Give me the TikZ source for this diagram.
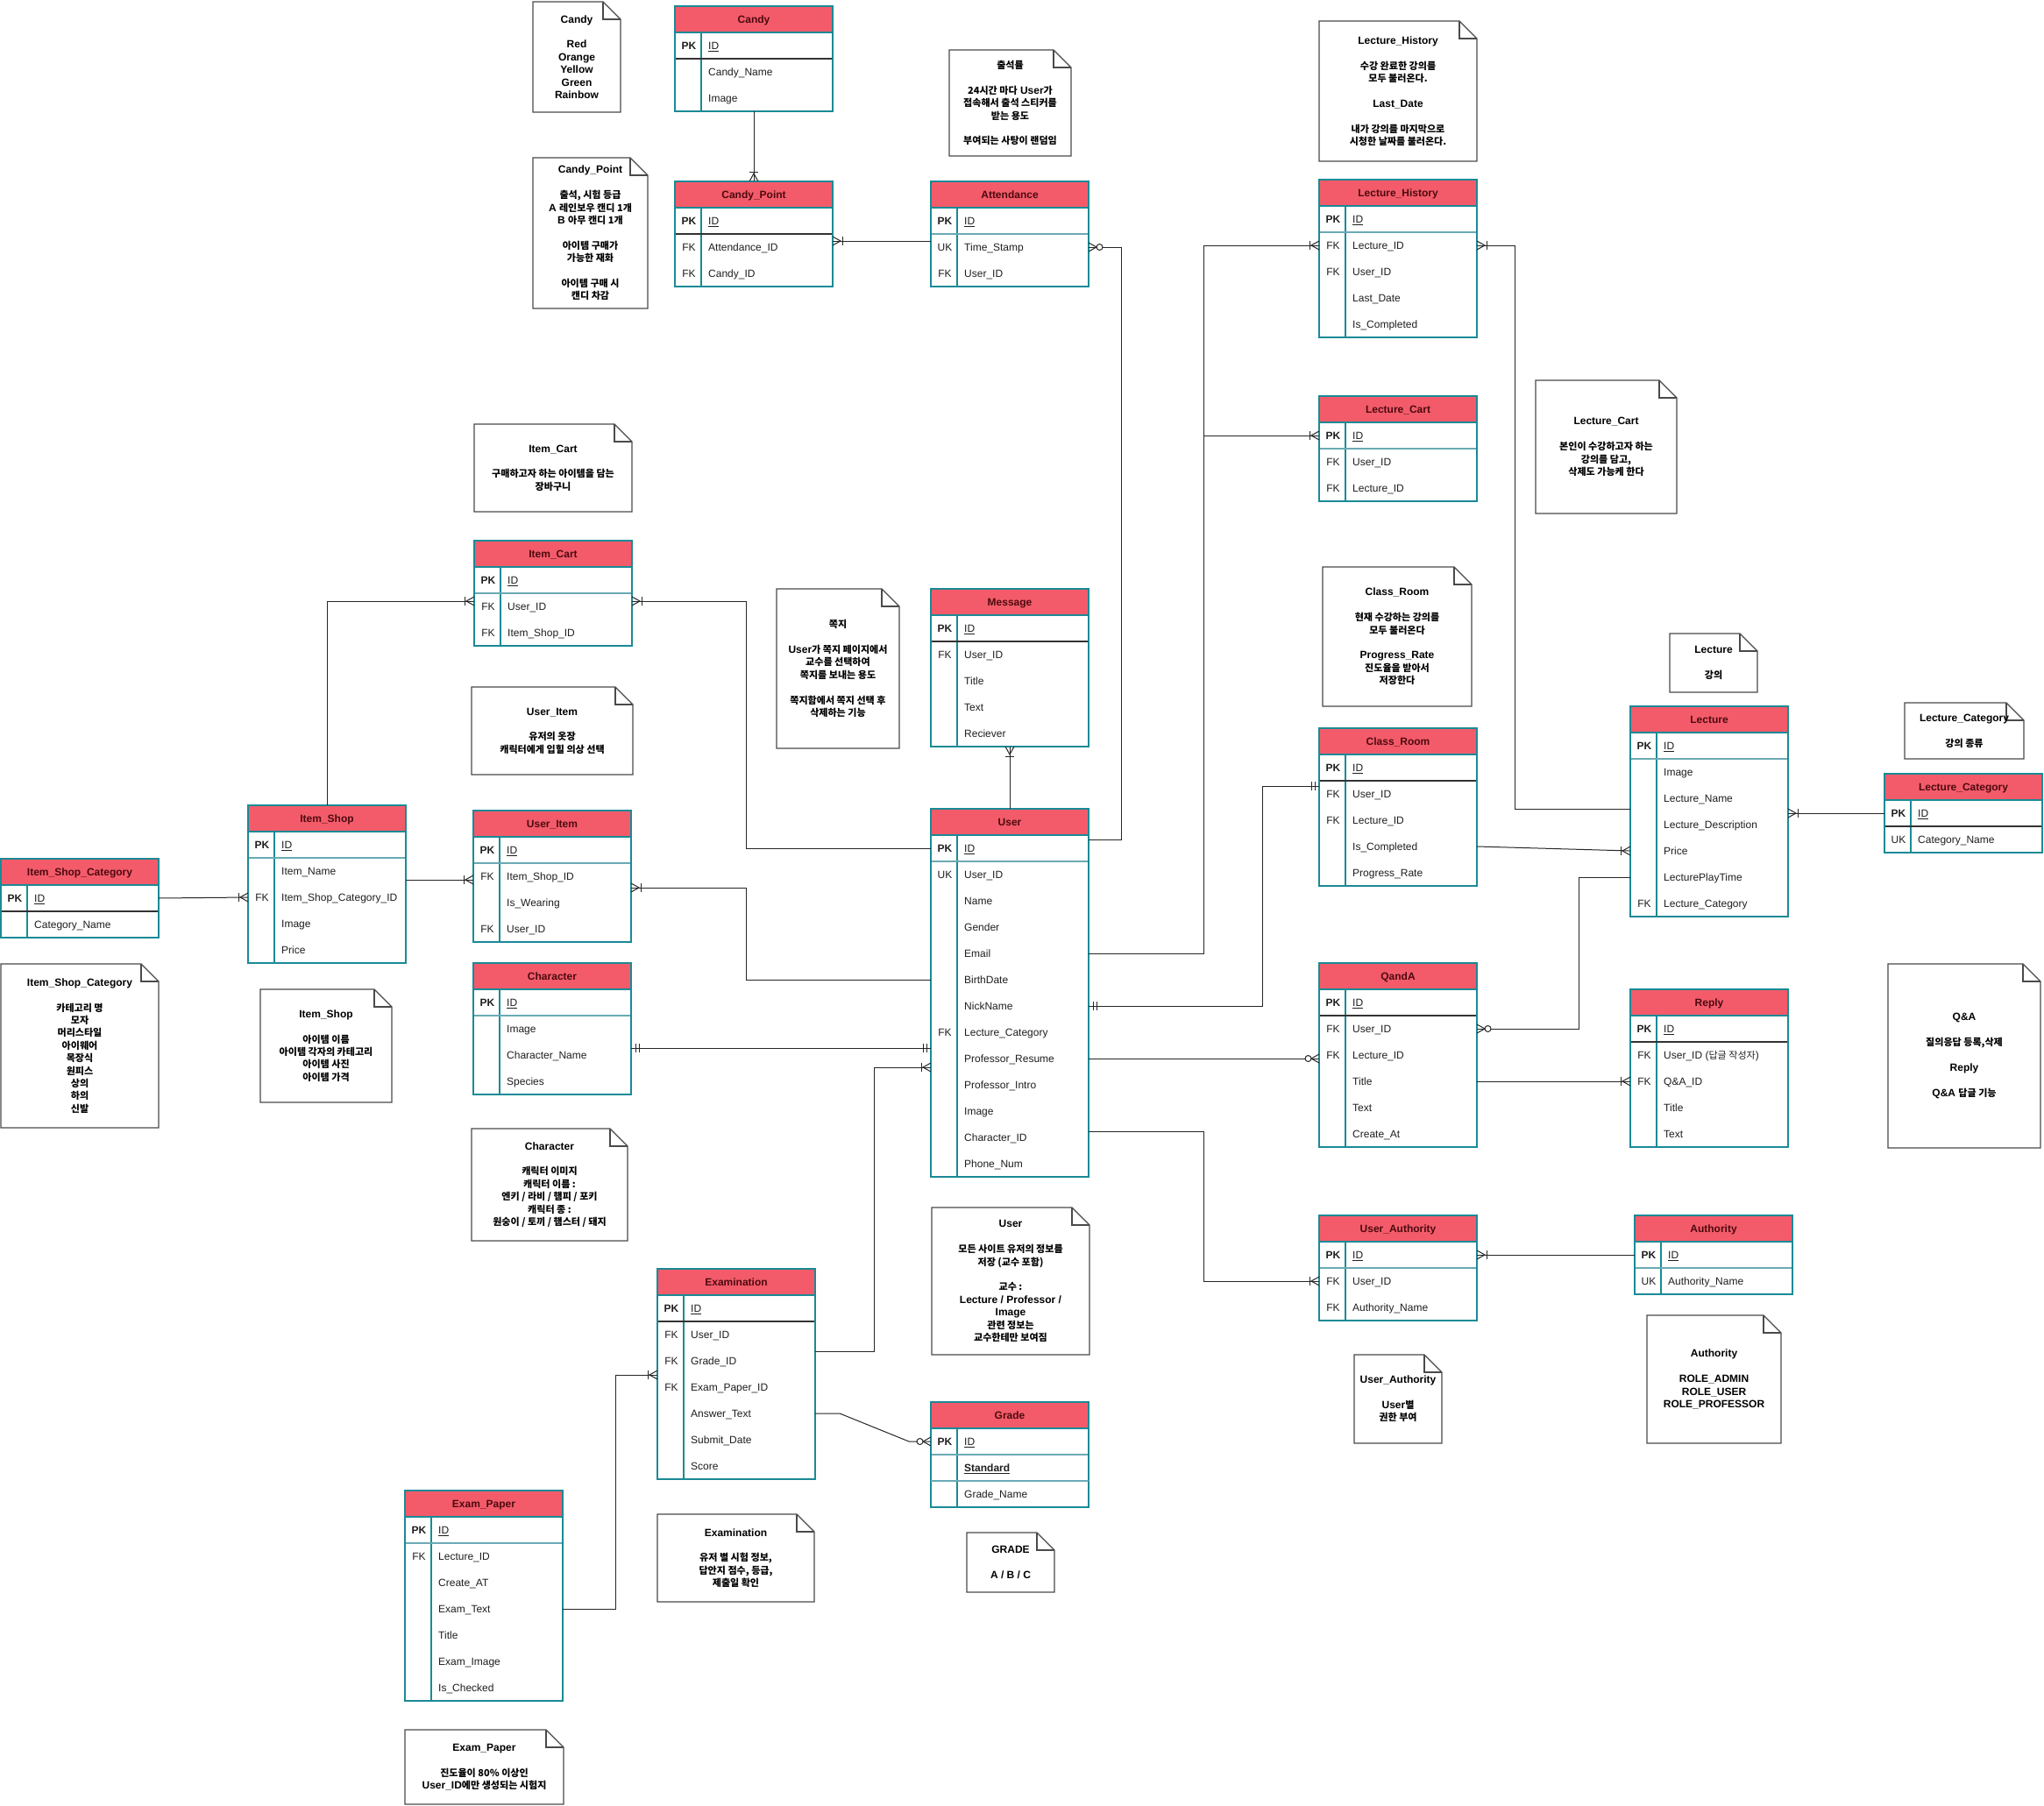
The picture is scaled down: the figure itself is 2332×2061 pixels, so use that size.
\documentclass[tikz,border=0pt]{standalone}
\usepackage{fontspec}
\setmainfont{Liberation Sans}
\newfontfamily\krfont{Noto Sans CJK KR}[Scale=0.92]
\newcommand\kr[1]{{\krfont #1}}
\newcommand\bl{\\[14.4pt]}
\newcommand\pkey{\textbf{PK}}
\newcommand\idu{\underline{ID}}
\usetikzlibrary{calc}
\definecolor{hdrfill}{HTML}{F35B6A}
\definecolor{tealb}{HTML}{1A8A96}
\definecolor{tealsep}{HTML}{6AAAB4}
\definecolor{hdrtext}{HTML}{4D0A0F}
\definecolor{rowtext}{HTML}{1F1F1F}
\definecolor{notegray}{HTML}{4A4A4A}
\tikzset{
  tblhead/.style={fill=hdrfill, draw=none, minimum width=180pt, minimum height=30pt, inner sep=0pt, outer sep=0pt, text height=8.6pt, text depth=0pt, font=\fontsize{12}{14}\selectfont\bfseries, text=hdrtext},
  tblrow/.style={minimum width=180pt, minimum height=30pt, inner sep=0pt, outer sep=0pt},
  tblkey/.style={inner sep=0pt, text height=8.6pt, text depth=0pt, font=\fontsize{12}{14}\selectfont, text=rowtext},
  tblfield/.style={anchor=west, inner sep=0pt, text height=8.6pt, text depth=0pt, font=\fontsize{12}{14}\selectfont, text=rowtext},
  tblframe/.style={draw=tealb, line width=1.2pt, minimum width=180pt, inner sep=0pt, outer sep=0pt},
  tblline/.style={draw=tealb, line width=1.2pt},
  sepdark/.style={draw=black!80, line width=1.6pt},
  septeal/.style={draw=tealsep, line width=1.6pt},
  notestroke/.style={draw=notegray, line width=1.3pt, line join=miter},
  notetext/.style={align=center, inner sep=0pt, font=\fontsize{12}{14.4}\selectfont\bfseries, text=black},
  conn/.style={draw=black!85, line width=1pt},
  mk/.style={draw=black!85, line width=1pt},
  pics/onemany/.style={code={
    \draw[mk] (11,-5) -- (11,5);
    \draw[mk] (0,-5) -- (9,0) -- (0,5);
  }},
  pics/zeromany/.style={code={
    \draw[mk] (0,-5) -- (9,0) -- (0,5);
    \draw[mk, fill=white] (12.5,0) circle[radius=3.5pt];
  }},
  pics/mandone/.style={code={
    \draw[mk] (5,-5) -- (5,5);
    \draw[mk] (9,-5) -- (9,5);
  }},
}
% #1 separator style, #2 name, #3 x, #4 y, #5 title, #6 rows key/field
\newcommand\ertable[6][septeal]{%
  \node[tblhead] (#2-h) at (#3+90,#4+15) {#5};
  \foreach \k/\f [count=\i] in {#6} {
    \node[tblrow] (#2-\i) at (#3+90,#4+15+30*\i) {};
    \node[tblkey] at (#3+16,#4+15+30*\i) {\k};
    \node[tblfield] at (#3+38,#4+15+30*\i) {\f};
    \xdef\nrows{\i}
  }
  \draw[tblline] (#3,#4+30) -- (#3+180,#4+30);
  \draw[tblline] (#3+30,#4+30) -- (#3+30,{#4+30+30*\nrows});
  \draw[#1] (#3,#4+60) -- (#3+180,#4+60);
  \node[tblframe, minimum height={30+30*\nrows}] (#2) at (#3+90,{#4+15+15*\nrows}) {};
}
% #1 name, #2 x1, #3 y1, #4 x2, #5 y2, #6 text
\newcommand\ernote[6]{%
  \draw[notestroke, fill=white] (#2,#3) -- (#4-20,#3) -- (#4,#3+20) -- (#4,#5) -- (#2,#5) -- cycle;
  \draw[notestroke] (#4-20,#3) -- (#4-20,#3+20) -- (#4,#3+20);
  \node[notetext] (#1) at ({(#2+#4)/2},{(#3+#5)/2}) {#6};
}
\begin{document}
\begin{tikzpicture}[x=1pt,y=-1pt]
\fill[white] (0,0) rectangle (2332,2061);
\useasboundingbox (0,0) rectangle (2332,2061);

% ---------- tables ----------
\ertable[sepdark]{candy}{770}{7}{Candy}{\pkey/\idu, /Candy\_Name, /Image}
\ertable[sepdark]{cpoint}{770}{207}{Candy\_Point}{\pkey/\idu, FK/Attendance\_ID, FK/Candy\_ID}
\ertable[septeal]{att}{1062}{207}{Attendance}{\pkey/\idu, UK/Time\_Stamp, FK/User\_ID}
\ertable[septeal]{lhist}{1505}{205}{Lecture\_History}{\pkey/\idu, FK/Lecture\_ID, FK/User\_ID, /Last\_Date, /Is\_Completed}
\ertable[septeal]{lcart}{1505}{452}{Lecture\_Cart}{\pkey/\idu, FK/User\_ID, FK/Lecture\_ID}
\ertable[septeal]{icart}{541}{617}{Item\_Cart}{\pkey/\idu, FK/User\_ID, FK/Item\_Shop\_ID}
\ertable[sepdark]{msg}{1062}{672}{Message}{\pkey/\idu, FK/User\_ID, /Title, /Text, /Reciever}
\ertable[sepdark]{croom}{1505}{831}{Class\_Room}{\pkey/\idu, FK/User\_ID, FK/Lecture\_ID, /Is\_Completed, /Progress\_Rate}
\ertable[septeal]{lec}{1860}{806}{Lecture}{\pkey/\idu, /Image, /Lecture\_Name, /Lecture\_Description, /Price, /LecturePlayTime, FK/Lecture\_Category}
\ertable[sepdark]{lcat}{2150}{883}{Lecture\_Category}{\pkey/\idu, UK/Category\_Name}
\ertable[septeal]{ishop}{283}{919}{Item\_Shop}{\pkey/\idu, /Item\_Name, FK/Item\_Shop\_Category\_ID, /Image, /Price}
\ertable[septeal]{uitem}{540}{925}{User\_Item}{\pkey/\idu, FK/Item\_Shop\_ID, /Is\_Wearing, FK/User\_ID}
\ertable[septeal]{user}{1062}{923}{User}{\pkey/\idu, UK/User\_ID, /Name, /Gender, /Email, /BirthDate, /NickName, FK/Lecture\_Category, /Professor\_Resume, /Professor\_Intro, /Image, /Character\_ID, /Phone\_Num}
\ertable[sepdark]{iscat}{1}{980}{Item\_Shop\_Category}{\pkey/\idu, /Category\_Name}
\ertable[septeal]{char}{540}{1099}{Character}{\pkey/\idu, /Image, /Character\_Name, /Species}
\ertable[sepdark]{qanda}{1505}{1099}{QandA}{\pkey/\idu, FK/User\_ID, FK/Lecture\_ID, /Title, /Text, /Create\_At}
\ertable[sepdark]{reply}{1860}{1129}{Reply}{\pkey/\idu, FK/User\_ID (\kr{답글 작성자}), FK/Q\&A\_ID, /Title, /Text}
\ertable[septeal]{uauth}{1505}{1387}{User\_Authority}{\pkey/\idu, FK/User\_ID, FK/Authority\_Name}
\ertable[septeal]{auth}{1865}{1387}{Authority}{\pkey/\idu, UK/Authority\_Name}
\ertable[sepdark]{exam}{750}{1448}{Examination}{\pkey/\idu, FK/User\_ID, FK/Grade\_ID, FK/Exam\_Paper\_ID, /Answer\_Text, /Submit\_Date, /Score}
\ertable[septeal]{grade}{1062}{1600}{Grade}{\pkey/\idu, /\textbf{\underline{Standard}}, /Grade\_Name}
\draw[septeal] (1062,1690) -- (1242,1690);
\ertable[septeal]{epaper}{462}{1701}{Exam\_Paper}{\pkey/\idu, FK/Lecture\_ID, /Create\_AT, /Exam\_Text, /Title, /Exam\_Image, /Is\_Checked}

% ---------- notes ----------
\ernote{nCandy}{608}{2}{708}{128}{Candy\bl Red\\Orange\\Yellow\\Green\\Rainbow}
\ernote{nCandyPoint}{608}{180}{739}{352}{Candy\_Point\bl\kr{출석, 시험 등급}\\A \kr{레인보우 캔디 1개}\\B \kr{아무 캔디 1개}\bl\kr{아이템 구매가}\\\kr{가능한 재화}\bl\kr{아이템 구매 시}\\\kr{캔디 차감}}
\ernote{nAttend}{1083}{57}{1222}{178}{\kr{출석률}\bl\kr{24시간 마다} User\kr{가}\\\kr{접속해서 출석 스티커를}\\\kr{받는 용도}\bl\kr{부여되는 사탕이 랜덤임}}
\ernote{nLHist}{1505}{24}{1685}{184}{Lecture\_History\bl\kr{수강 완료한 강의를}\\\kr{모두 불러온다.}\bl Last\_Date\bl\kr{내가 강의를 마지막으로}\\\kr{시청한 날짜를 불러온다.}}
\ernote{nLCart}{1752}{434}{1913}{586}{Lecture\_Cart\bl\kr{본인이 수강하고자 하는}\\\kr{강의를 담고,}\\\kr{삭제도 가능케 한다}}
\ernote{nICart}{541}{484}{721}{584}{Item\_Cart\bl\kr{구매하고자 하는 아이템을 담는}\\\kr{장바구니}}
\ernote{nMsg}{886}{672}{1026}{854}{\kr{쪽지}\bl User\kr{가 쪽지 페이지에서}\\\kr{교수를 선택하여}\\\kr{쪽지를 보내는 용도}\bl\kr{쪽지함에서 쪽지 선택 후}\\\kr{삭제하는 기능}}
\ernote{nUItem}{538}{784}{722}{884}{User\_Item\bl\kr{유저의 옷장}\\\kr{캐릭터에게 입힐 의상 선택}}
\ernote{nCRoom}{1509}{647}{1679}{806}{Class\_Room\bl\kr{현재 수강하는 강의를}\\\kr{모두 불러온다}\bl Progress\_Rate\\\kr{진도율을 받아서}\\\kr{저장한다}}
\ernote{nLec}{1905}{723}{2005}{790}{Lecture\bl\kr{강의}}
\ernote{nLCat}{2173}{802}{2309}{866}{Lecture\_Category\bl\kr{강의 종류}}
\ernote{nISCat}{1}{1100}{181}{1287}{Item\_Shop\_Category\bl\kr{카테고리 명}\\\kr{모자}\\\kr{머리스타일}\\\kr{아이웨어}\\\kr{목장식}\\\kr{원피스}\\\kr{상의}\\\kr{하의}\\\kr{신발}}
\ernote{nIShop}{297}{1129}{447}{1258}{Item\_Shop\bl\kr{아이템 이름}\\\kr{아이템 각자의 카테고리}\\\kr{아이템 사진}\\\kr{아이템 가격}}
\ernote{nChar}{538}{1288}{716}{1416}{Character\bl\kr{캐릭터 이미지}\\\kr{캐릭터 이름 :}\\\kr{엔키 / 라비 / 햄피 / 포키}\\\kr{캐릭터 종 :}\\\kr{원숭이 / 토끼 / 햄스터 / 돼지}}
\ernote{nUser}{1063}{1378}{1243}{1546}{User\bl\kr{모든 사이트 유저의 정보를}\\\kr{저장 (교수 포함)}\bl\kr{교수 :}\\Lecture / Professor /\\Image\\\kr{관련 정보는}\\\kr{교수한테만 보여짐}}
\ernote{nQA}{2154}{1100}{2328}{1310}{Q\&A\bl\kr{질의응답 등록,삭제}\bl Reply\bl Q\&A \kr{답글 기능}}
\ernote{nUAuth}{1545}{1546}{1645}{1647}{User\_Authority\bl User\kr{별}\\\kr{권한 부여}}
\ernote{nAuth}{1879}{1501}{2032}{1647}{Authority\bl ROLE\_ADMIN\\ROLE\_USER\\ROLE\_PROFESSOR}
\ernote{nExam}{750}{1728}{929}{1828}{Examination\bl\kr{유저 별 시험 정보,}\\\kr{답안지 점수, 등급,}\\\kr{제출일 확인}}
\ernote{nGrade}{1103}{1749}{1203}{1817}{GRADE\bl A / B / C}
\ernote{nEPaper}{462}{1974}{643}{2059}{Exam\_Paper\bl\kr{진도율이 80\% 이상인}\\User\_ID\kr{에만 생성되는 시험지}}

% ---------- connectors ----------
\draw[conn] (candy.south) -- (cpoint.north);
\pic[rotate=90] at (cpoint.north) {onemany};

\draw[conn] ([yshift=7pt]att-2.west) -- ([yshift=7pt]cpoint-2.east);
\pic at ([yshift=7pt]cpoint-2.east) {onemany};

\draw[conn] ([yshift=10pt]user-1.east) -- ++(37,0) |- (att-2.east);
\pic at (att-2.east) {zeromany};

\draw[conn] (msg.south) -- (user.north);
\pic[rotate=-90] at (msg.south) {onemany};

\draw[conn] (user-1.west) -- ++(-211,0) |- ([yshift=6pt]icart-2.east);
\pic at ([yshift=6pt]icart-2.east) {onemany};

\draw[conn] (ishop.north) |- ([yshift=6pt]icart-2.west);
\pic[rotate=180] at ([yshift=6pt]icart-2.west) {onemany};

\draw[conn] (iscat-1.east) -- (ishop-3.west);
\pic[rotate=180] at (ishop-3.west) {onemany};

\draw[conn] ([yshift=-4pt]uitem-2.west) -- ([yshift=-4pt]uitem-2.west -| ishop.east);
\pic[rotate=180] at ([yshift=-4pt]uitem-2.west) {onemany};

\draw[conn] (user-6.west) -- ++(-211,0) |- ([yshift=-13pt]uitem-2.east);
\pic at ([yshift=-13pt]uitem-2.east) {onemany};

\draw[conn] ([yshift=8pt]char-3.east) -- ([yshift=8pt]char-3.east -| user.west);
\pic at ([yshift=8pt]char-3.east) {mandone};
\pic[rotate=180] at ([yshift=8pt]char-3.east -| user.west) {mandone};

\draw[conn] ([yshift=-19pt]exam-2.east) -- ++(67,0) |- ([yshift=-10pt]user-9.west);
\pic[rotate=180] at ([yshift=-10pt]user-9.west) {onemany};

\draw[conn] (epaper-4.east) -- ++(60,0) |- ([yshift=14pt]exam-4.west);
\pic[rotate=180] at ([yshift=14pt]exam-4.west) {onemany};

\draw[conn] (exam-5.east) -- ++(28,0) -- ([xshift=-25pt]grade-1.west) -- (grade-1.west);
\pic[rotate=180] at (grade-1.west) {zeromany};

\draw[conn] (user-5.east) -- ++(131,0) |- (lhist-2.west);
\draw[conn] (user-5.east) ++(131,0) |- (lcart-1.west);
\pic[rotate=180] at (lhist-2.west) {onemany};
\pic[rotate=180] at (lcart-1.west) {onemany};

\draw[conn] (user-7.east) -- ++(198,0) |- ([yshift=9pt]croom-2.west);
\pic at (user-7.east) {mandone};
\pic[rotate=180] at ([yshift=9pt]croom-2.west) {mandone};

\draw[conn] (user-9.east) -- (user-9.east -| qanda.west);
\pic[rotate=180] at (user-9.east -| qanda.west) {zeromany};

\draw[conn] ([yshift=7pt]user-12.east) -- ++(131,0) |- (uauth-2.west);
\pic[rotate=180] at (uauth-2.west) {onemany};

\draw[conn] ([yshift=-12pt]lec-3.west) -- ++(-132,0) |- (lhist-2.east);
\pic at (lhist-2.east) {onemany};

\draw[conn] (croom-4.east) -- (lec-5.west);
\pic[rotate=180] at (lec-5.west) {onemany};

\draw[conn] (lec-6.west) -- ++(-59,0) |- (qanda-2.east);
\pic at (qanda-2.east) {zeromany};

\draw[conn] (lcat-1.west) -- (lcat-1.west -| lec.east);
\pic at (lcat-1.west -| lec.east) {onemany};

\draw[conn] (qanda-4.east) -- (reply-3.west);
\pic[rotate=180] at (reply-3.west) {onemany};

\draw[conn] (auth-1.west) -- (uauth-1.east);
\pic at (uauth-1.east) {onemany};
\end{tikzpicture}
\end{document}
